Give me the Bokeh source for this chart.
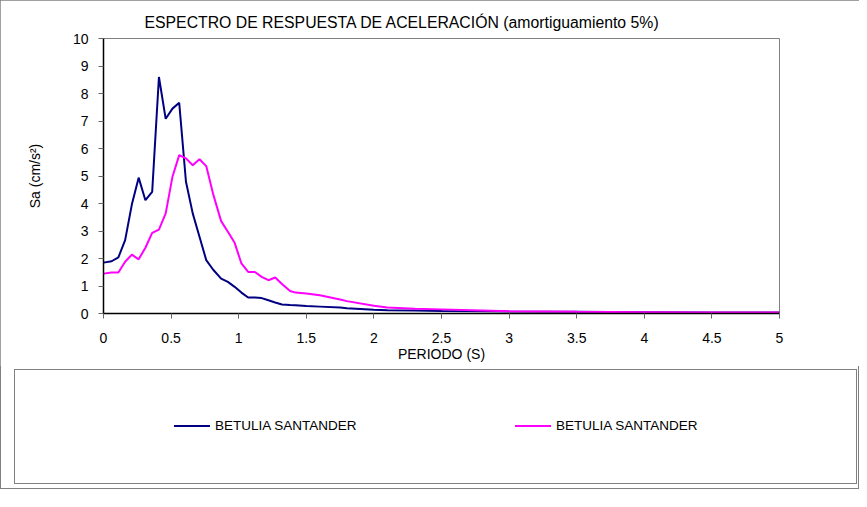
from bokeh.plotting import figure
from bokeh.layouts import column
from bokeh.models import FixedTicker, CustomJSTickFormatter, Range1d, Div
from bokeh.embed import file_html
from bokeh.resources import INLINE

# ---- data ----
periods = [0.00, 0.06, 0.11, 0.16, 0.21, 0.26, 0.31, 0.36, 0.41, 0.46,
           0.51, 0.56, 0.61, 0.66, 0.71, 0.76, 0.81, 0.87, 0.92, 0.97,
           1.02, 1.07, 1.12, 1.17, 1.22, 1.27, 1.32, 1.38, 1.42, 1.50,
           1.60, 1.75, 1.80, 2.00, 2.10, 2.30, 2.50, 2.80, 3.00, 3.50,
           4.00, 4.50, 5.00]
sa_navy = [1.85, 1.90, 2.04, 2.67, 3.97, 4.94, 4.12, 4.42, 8.60, 7.08,
           7.45, 7.66, 4.79, 3.64, 2.79, 1.94, 1.60, 1.27, 1.15, 0.97,
           0.76, 0.58, 0.58, 0.56, 0.48, 0.40, 0.33, 0.31, 0.30, 0.27,
           0.25, 0.22, 0.19, 0.14, 0.12, 0.11, 0.09, 0.08, 0.07, 0.06,
           0.05, 0.04, 0.04]
sa_magenta = [1.45, 1.49, 1.49, 1.88, 2.14, 1.97, 2.39, 2.93, 3.05, 3.64,
              4.97, 5.76, 5.64, 5.39, 5.61, 5.36, 4.36, 3.36, 2.97, 2.57,
              1.82, 1.51, 1.51, 1.33, 1.21, 1.31, 1.07, 0.82, 0.76, 0.73,
              0.66, 0.51, 0.45, 0.28, 0.22, 0.17, 0.15, 0.11, 0.08, 0.06,
              0.05, 0.04, 0.04]
series_names = ["BETULIA SANTANDER", "BETULIA SANTANDER"]
series_colors = ["#000080", "#FF00FF"]
x_ticks = [0, 0.5, 1, 1.5, 2, 2.5, 3, 3.5, 4, 4.5, 5]
y_ticks = [0, 1, 2, 3, 4, 5, 6, 7, 8, 9, 10]
title_text = "ESPECTRO DE RESPUESTA DE ACELERACIÓN  (amortiguamiento 5%)"
x_label = "PERIODO (S)"
y_label = "Sa (cm/s²)"

FONT = "Liberation Sans"
GRAY = "#808080"

# ---- main chart ----
p = figure(frame_width=676, frame_height=275,
           min_border_left=103, min_border_right=80,
           min_border_top=38, min_border_bottom=53,
           x_range=Range1d(0, 5), y_range=Range1d(0, 10),
           output_backend="svg", toolbar_location=None,
           background_fill_color="white", border_fill_color="white")

p.title.text = title_text
p.title.align = "left"
p.title.offset = 41
p.title.standoff = 16
p.title.text_font = FONT
p.title.text_font_size = "15.8px"
p.title.text_font_style = "normal"
p.title.text_color = "black"

p.xgrid.visible = False
p.ygrid.visible = False
p.outline_line_color = GRAY
p.outline_line_width = 1

for ax in (p.xaxis[0], p.yaxis[0]):
    ax.axis_line_color = "black"
    ax.axis_line_width = 1.5
    ax.major_tick_in = 0
    ax.major_tick_out = 5
    ax.major_tick_line_color = "#666666"
    ax.minor_tick_line_color = None
    ax.major_label_text_font = FONT
    ax.major_label_text_font_size = "14px"
    ax.major_label_text_color = "black"
    ax.axis_label_text_font = FONT
    ax.axis_label_text_font_size = "14px"
    ax.axis_label_text_font_style = "normal"
    ax.axis_label_text_color = "black"

p.xaxis.ticker = FixedTicker(ticks=x_ticks)
p.xaxis.formatter = CustomJSTickFormatter(code="return tick.toString();")
p.xaxis.major_label_standoff = 14
p.xaxis.axis_label = x_label
p.xaxis.axis_label_standoff = 0

p.yaxis.ticker = FixedTicker(ticks=y_ticks)
p.yaxis.major_label_standoff = 10
p.yaxis.axis_label = y_label
p.yaxis.axis_label_standoff = 27

p.line(periods, sa_navy, line_color=series_colors[0], line_width=2)
p.line(periods, sa_magenta, line_color=series_colors[1], line_width=2)

# ---- legend panel (HTML) ----
item_html = ""
for i, (name, col) in enumerate(zip(series_names, series_colors)):
    x0 = 159 + i * 341
    item_html += (
        f'<div style="position:absolute;left:{x0}px;top:55px;width:36px;'
        f'height:2px;background:{col};"></div>'
        f'<div style="position:absolute;left:{x0 + 41}px;top:48px;'
        f'line-height:16px;font-family:\'{FONT}\';font-size:13.5px;'
        f'color:black;white-space:nowrap;">{name}</div>'
    )
legend_html = (
    '<div style="position:relative;width:859px;height:123px;">'
    '<div style="position:absolute;left:14px;top:3px;width:843px;height:115px;'
    f'box-sizing:border-box;border:1px solid {GRAY};background:white;">'
    + item_html + '</div></div>'
)
legend_div = Div(text=legend_html, width=859, height=123, margin=0)

layout = column(p, legend_div, spacing=0,
                styles={"outline": "1px solid #808080", "outline-offset": "-1px"})

open("out.html", "w").write(file_html(layout, INLINE))
